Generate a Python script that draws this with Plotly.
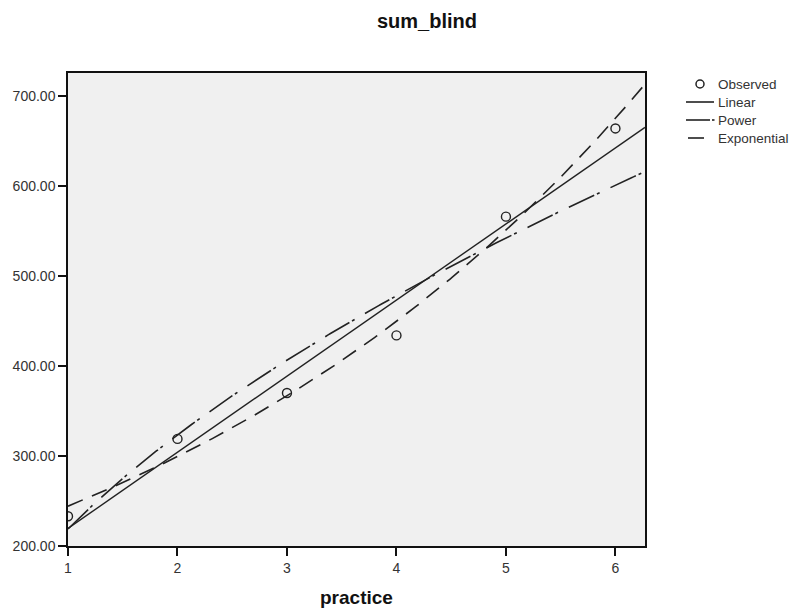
import numpy as np
import plotly.graph_objects as go

practice = [1, 2, 3, 4, 5, 6]
sum_blind = [233, 319, 370, 434, 566, 664]
y_ticks = [200, 300, 400, 500, 600, 700]
y_tick_labels = ["200.00", "300.00", "400.00", "500.00", "600.00", "700.00"]
x_ticks = [1, 2, 3, 4, 5, 6]
legend_names = ["Observed", "Linear", "Power", "Exponential"]

x = np.array(practice, dtype=float)
y = np.array(sum_blind, dtype=float)
xs = np.linspace(1, 6.27, 300)

# Linear fit
b1, b0 = np.polyfit(x, y, 1)
lin = b0 + b1 * xs
# Power fit (log-log)
pb, pa = np.polyfit(np.log(x), np.log(y), 1)
pw = np.exp(pa) * xs ** pb
# Exponential fit (log-linear)
eb, ea = np.polyfit(x, np.log(y), 1)
ex = np.exp(ea) * np.exp(eb * xs)

INK = "#222"
POWER_DASH = "28px,3px,3px,12px"
EXP_DASH = "16px,10px"

fig = go.Figure()
fig.add_trace(go.Scatter(x=xs, y=lin, mode="lines", name=legend_names[1],
                         line=dict(color=INK, width=1.4)))
fig.add_trace(go.Scatter(x=xs, y=pw, mode="lines", name=legend_names[2],
                         line=dict(color=INK, width=1.6, dash=POWER_DASH)))
fig.add_trace(go.Scatter(x=xs, y=ex, mode="lines", name=legend_names[3],
                         line=dict(color=INK, width=1.6, dash=EXP_DASH)))
fig.add_trace(go.Scatter(x=practice, y=sum_blind, mode="markers", name=legend_names[0],
                         marker=dict(symbol="circle-open", size=9, color=INK,
                                     line=dict(width=1.4, color=INK))))

# plot-area geometry in page pixels (for placing the hand-built legend)
PL, PR, PT, PB = 68, 645, 73, 546
def px_x(p):
    return (p - PL) / (PR - PL)
def px_y(p):
    return (PB - p) / (PB - PT)

rows = [84, 102, 120, 138]
text_x = 716
shapes = [
    dict(type="circle", xref="paper", yref="paper",
         x0=px_x(696), x1=px_x(704), y0=px_y(rows[0] + 4), y1=px_y(rows[0] - 4),
         line=dict(color=INK, width=1.5)),
    dict(type="line", xref="paper", yref="paper",
         x0=px_x(686), x1=px_x(714), y0=px_y(rows[1]), y1=px_y(rows[1]),
         line=dict(color=INK, width=1.6)),
    dict(type="line", xref="paper", yref="paper",
         x0=px_x(686), x1=px_x(710), y0=px_y(rows[2]), y1=px_y(rows[2]),
         line=dict(color=INK, width=1.6)),
    dict(type="line", xref="paper", yref="paper",
         x0=px_x(712), x1=px_x(714.5), y0=px_y(rows[2]), y1=px_y(rows[2]),
         line=dict(color=INK, width=1.6)),
    dict(type="line", xref="paper", yref="paper",
         x0=px_x(688), x1=px_x(704), y0=px_y(rows[3]), y1=px_y(rows[3]),
         line=dict(color=INK, width=1.6)),
]
annotations = []
for name, r in zip(legend_names, rows):
    annotations.append(dict(text=name, xref="paper", yref="paper",
                            x=px_x(text_x), y=px_y(r), xanchor="left", yanchor="middle",
                            showarrow=False, font=dict(size=13.5, color="#333")))
annotations.append(dict(text="<b>practice</b>", xref="paper", yref="paper",
                        x=px_x(356.5), y=px_y(597), xanchor="center", yanchor="middle",
                        showarrow=False, font=dict(size=19, color="#111")))
annotations.append(dict(text="<b>sum_blind</b>", xref="paper", yref="paper",
                        x=px_x(427), y=px_y(21), xanchor="center", yanchor="middle",
                        showarrow=False, font=dict(size=20, color="#111")))

font = "Liberation Sans, Arial, sans-serif"
fig.update_layout(
    width=799, height=609,
    margin=dict(l=60, r=162, t=65, b=71, autoexpand=False),
    paper_bgcolor="white", plot_bgcolor="#f0f0f0",
    font=dict(family=font, size=14, color="#333"),
    showlegend=False,
    shapes=shapes,
    annotations=annotations,
    xaxis=dict(range=[1, 6.27], tickvals=x_ticks, ticktext=[str(t) for t in x_ticks],
               showgrid=False, zeroline=False, showline=True, linecolor="#111", linewidth=1.5,
               mirror=True, ticks="outside", ticklen=8, tickcolor="#111", tickwidth=1.5,
               tickfont=dict(size=14, color="#333"), automargin=False),
    yaxis=dict(range=[200, 725.6], tickvals=y_ticks, ticktext=y_tick_labels,
               showgrid=False, zeroline=False, showline=True, linecolor="#111", linewidth=1.5,
               mirror=True, ticks="outside", ticklen=8, tickcolor="#111", tickwidth=1.5,
               tickfont=dict(size=14, color="#333"), automargin=False),
)
fig.write_html("out.html")
